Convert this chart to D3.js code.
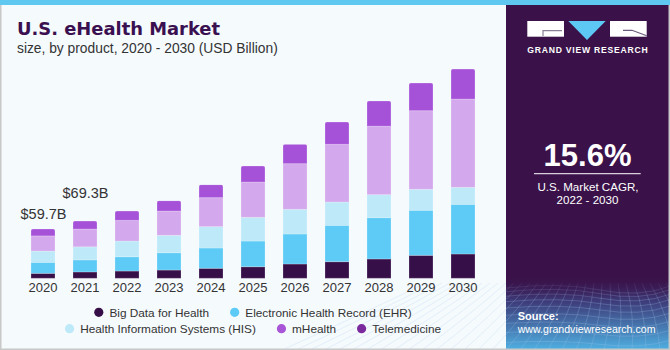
<!DOCTYPE html>
<html><head><meta charset="utf-8">
<script src="https://cdn.jsdelivr.net/npm/d3@7"></script>
<style>html,body{margin:0;padding:0;background:#fff;}svg{display:block;}</style>
</head><body>
<svg id="c" width="670" height="350"></svg>
<script>
// ---- data ----
const years = ["2020","2021","2022","2023","2024","2025","2026","2027","2028","2029","2030"];
const seriesNames = ["Big Data for Health","Electronic Health Record (EHR)","Health Information Systems (HIS)","mHealth","Telemedicine"];
const bigData      = [6.0, 7.7, 8.8, 10.0, 12.1, 14.0, 17.3, 20.1, 23.4, 27.8, 29.4];
const ehr          = [13.3, 14.6, 17.3, 20.9, 24.6, 31.1, 36.3, 44.0, 50.0, 54.5, 60.1];
const his          = [13.6, 15.8, 19.0, 21.1, 25.8, 28.7, 29.9, 28.2, 27.8, 25.4, 20.6];
const mHealth      = [18.4, 21.5, 25.0, 29.4, 35.1, 42.7, 55.2, 69.8, 82.8, 95.1, 106.8];
const telemedicine = [8.4, 9.7, 11.3, 12.5, 15.7, 19.4, 23.5, 27.0, 30.6, 33.5, 36.3];
const totalLabels = [{year:"2020", text:"$59.7B", off:10}, {year:"2021", text:"$69.3B", off:23}];
const barColors = ["#370f48","#5ecbf6","#bde9f9","#d4a8ec","#a652d8"];
const legendColors = ["#370f48","#5ecbf6","#bde9f9","#a855d8","#7b2a9e"];

const svg = d3.select("#c");
const FONT = "'Liberation Sans', Arial, sans-serif";

// background
svg.append("rect").attr("x",0).attr("y",0).attr("width",670).attr("height",350).attr("fill","#f5fafd");

// right panel
const defs = svg.append("defs");
const g1 = defs.append("linearGradient").attr("id","pg").attr("x1",0).attr("y1",0).attr("x2",0).attr("y2",1);
g1.append("stop").attr("offset","0").attr("stop-color","#3a1249");
g1.append("stop").attr("offset","0.78").attr("stop-color","#3a1249");
g1.append("stop").attr("offset","0.86").attr("stop-color","#3d3a78");
g1.append("stop").attr("offset","1").attr("stop-color","#4fb0e2");
svg.append("rect").attr("x",506).attr("y",0).attr("width",164).attr("height",350).attr("fill","url(#pg)");
// mesh decoration
const mesh = svg.append("g").attr("stroke","#a9c9ee").attr("stroke-opacity",0.35).attr("stroke-width",0.7).attr("fill","none");
for (let i = 0; i < 12; i++) {
  const yy = 288 + i*i*0.45 + i*3.2;
  mesh.append("path").attr("d", `M506,${yy} Q560,${yy-6+i*0.4} 600,${yy+2} T670,${yy-2}`);
}
for (let i = -10; i <= 22; i++) {
  const xTop = 506 + i*8;
  const xBot = 506 + (i-6)*14;
  mesh.append("path").attr("d", `M${xTop},283 Q${(xTop+xBot)/2+6},315 ${xBot},350`);
}
svg.append("rect").attr("x",506).attr("y",0).attr("width",164).attr("height",278).attr("fill","#3a1249");
const fade = defs.append("linearGradient").attr("id","fd").attr("x1",0).attr("y1",0).attr("x2",0).attr("y2",1);
fade.append("stop").attr("offset","0").attr("stop-color","#3a1249").attr("stop-opacity",1);
fade.append("stop").attr("offset","1").attr("stop-color","#3a1249").attr("stop-opacity",0);
svg.append("rect").attr("x",506).attr("y",277).attr("width",164).attr("height",22).attr("fill","url(#fd)");

// top stripe
svg.append("rect").attr("x",0).attr("y",0).attr("width",670).attr("height",5).attr("fill","#5ec8f0");
// borders
svg.append("line").attr("x1",0.75).attr("x2",0.75).attr("y1",5).attr("y2",350).attr("stroke","#c8c8c8").attr("stroke-width",1.5);
svg.append("line").attr("x1",0).attr("x2",670).attr("y1",349.25).attr("y2",349.25).attr("stroke","#c8c8c8").attr("stroke-width",1.5);
svg.append("line").attr("x1",669.25).attr("x2",669.25).attr("y1",5).attr("y2",350).attr("stroke","#c8c8c8").attr("stroke-width",1.5);

// titles
svg.append("text").attr("x",17).attr("y",35).text("U.S. eHealth Market")
  .attr("font-family","'DejaVu Sans', sans-serif").attr("font-weight","bold").attr("font-size",18).attr("fill","#3a1050")
  .attr("textLength",203).attr("lengthAdjust","spacingAndGlyphs");
svg.append("text").attr("x",17).attr("y",53.3).text("size, by product, 2020 - 2030 (USD Billion)")
  .attr("font-family",FONT).attr("font-size",13.8).attr("fill","#333");

// scales
const x = d3.scaleBand().domain(years).range([22, 22+42*11]).paddingInner(18/42).paddingOuter(9/42);
const y = d3.scaleLinear().domain([0, 260]).range([278.3, 278.3 - 260/1.21]);

const rows = years.map((yr,i)=>({year:yr, s0:bigData[i], s1:ehr[i], s2:his[i], s3:mHealth[i], s4:telemedicine[i]}));
const stack = d3.stack().keys(["s0","s1","s2","s3","s4"])(rows);

const clipG = defs;
years.forEach((yr,i)=>{
  const tot = bigData[i]+ehr[i]+his[i]+mHealth[i]+telemedicine[i];
  clipG.append("clipPath").attr("id","cl"+i).append("rect")
    .attr("x",x(yr)).attr("y",y(tot)).attr("width",x.bandwidth()).attr("height",y(0)-y(tot)+3).attr("rx",2);
});

const bars = svg.append("g");
stack.forEach((layer,li)=>{
  bars.append("g").selectAll("rect").data(layer).join("rect")
    .attr("clip-path",(d,i)=>`url(#cl${i})`)
    .attr("x",d=>x(d.data.year)).attr("width",x.bandwidth())
    .attr("y",d=>y(d[1])).attr("height",d=>y(d[0])-y(d[1]))
    .attr("fill",barColors[li])
    .attr("stroke","#ffffff").attr("stroke-opacity",0.22).attr("stroke-width",1);
});

// axis
const ax = svg.append("g").attr("transform",`translate(0,${y(0)})`)
  .call(d3.axisBottom(x).tickSize(0).tickPadding(4.5));
ax.select(".domain").remove();
ax.selectAll("text").attr("font-family",FONT).attr("font-size",13).attr("fill","#333");

// total labels
totalLabels.forEach(l=>{
  const i = years.indexOf(l.year);
  const tot = bigData[i]+ehr[i]+his[i]+mHealth[i]+telemedicine[i];
  svg.append("text").attr("x",x(l.year)+x.bandwidth()/2+0.5).attr("y",y(tot)-l.off)
    .attr("text-anchor","middle").attr("font-family",FONT).attr("font-size",14.5).attr("fill","#333").text(l.text);
});

// legend
const legendRows = [[0,1],[2,3,4]];
const legendY = [312.3, 328.7];
legendRows.forEach((row,ri)=>{
  const g = svg.append("g");
  let cx = 0;
  row.forEach(si=>{
    const it = g.append("g").attr("transform",`translate(${cx},0)`);
    it.append("circle").attr("cx",4.6).attr("cy",legendY[ri]).attr("r",4.6).attr("fill",legendColors[si]);
    const t = it.append("text").attr("x",15.2).attr("y",legendY[ri]+4.3)
      .attr("font-family",FONT).attr("font-size",11.8).attr("fill","#333").text(seriesNames[si]);
    cx += 15.2 + t.node().getComputedTextLength() + 21;
  });
  const w = cx - 21;
  g.attr("transform",`translate(${253 - w/2},0)`);
});

// logo
const logo = svg.append("g");
logo.append("rect").attr("x",527.3).attr("y",21).attr("width",36.7).attr("height",15.7).attr("fill","#fff");
logo.append("path").attr("d","M543,36 L543,30.6 L562,30.6").attr("stroke","#8a7f96").attr("stroke-width",1.2).attr("fill","none");
logo.append("path").attr("d","M568.3,21 L605.7,21 L587,40 Z").attr("fill","#5ec8f4");
logo.append("rect").attr("x",610).attr("y",21).attr("width",36.7).attr("height",15.7).attr("fill","#fff");
logo.append("path").attr("d","M623,30.3 L632,30.3 L646.7,35.8").attr("stroke","#6b5a7c").attr("stroke-width",1.2).attr("fill","none");
svg.append("text").attr("x",527.3).attr("y",53.3).text("GRAND VIEW RESEARCH")
  .attr("font-family",FONT).attr("font-weight","bold").attr("font-size",8.6).attr("fill","#fff")
  .attr("textLength",120.4).attr("lengthAdjust","spacing");

// CAGR
svg.append("text").attr("x",587.5).attr("y",165.7).attr("text-anchor","middle").text("15.6%")
  .attr("font-family",FONT).attr("font-weight","bold").attr("font-size",31).attr("fill","#fff");
svg.append("line").attr("x1",534).attr("x2",640.7).attr("y1",173.7).attr("y2",173.7).attr("stroke","#d8d0de").attr("stroke-width",1.3);
svg.append("text").attr("x",588).attr("y",191).attr("text-anchor","middle").text("U.S. Market CAGR,")
  .attr("font-family",FONT).attr("font-size",11.6).attr("fill","#fff");
svg.append("text").attr("x",587.5).attr("y",204.3).attr("text-anchor","middle").text("2022 - 2030")
  .attr("font-family",FONT).attr("font-size",11.6).attr("fill","#fff");

// source
svg.append("text").attr("x",517.7).attr("y",320).text("Source:")
  .attr("font-family",FONT).attr("font-weight","bold").attr("font-size",11).attr("fill","#fff");
svg.append("text").attr("x",517.7).attr("y",333.3).text("www.grandviewresearch.com")
  .attr("font-family",FONT).attr("font-size",10.6).attr("fill","#fff");
</script>
</body></html>
